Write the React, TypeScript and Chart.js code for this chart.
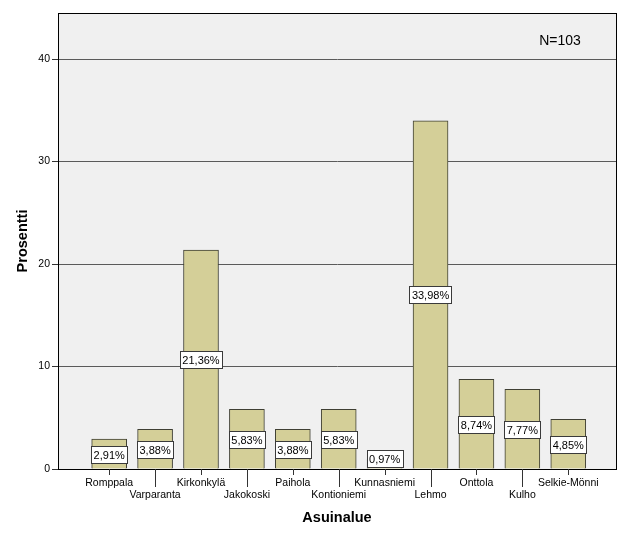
import React, { useEffect, useRef } from 'react';
import { Chart, registerables } from 'chart.js';

Chart.register(...registerables);

const categories = ['Romppala', 'Varparanta', 'Kirkonkylä', 'Jakokoski', 'Paihola', 'Kontioniemi', 'Kunnasniemi', 'Lehmo', 'Onttola', 'Kulho', 'Selkie-Mönni'];
const percentages = [2.91, 3.88, 21.36, 5.83, 3.88, 5.83, 0.97, 33.98, 8.74, 7.77, 4.85];
const yTicks = [0, 10, 20, 30, 40];
const sampleSizeLabel = 'N=103';
const xTitle = 'Asuinalue';
const yTitle = 'Prosentti';

const FONT = "'Liberation Sans', Arial, sans-serif";

const fmt = (v: number) => v.toFixed(2).replace('.', ',') + '%';

export default function App() {
  const ref = useRef<HTMLCanvasElement | null>(null);

  useEffect(() => {
    if (!ref.current) return;
    const decor = {
      id: 'decor',
      beforeDraw(chart: any) {
        const { ctx, chartArea: a } = chart;
        ctx.save();
        ctx.fillStyle = '#ffffff';
        ctx.fillRect(0, 0, chart.width, chart.height);
        ctx.fillStyle = '#f0f0f0';
        ctx.fillRect(a.left, a.top, a.right - a.left, a.bottom - a.top);
        ctx.restore();
      },
      afterDatasetsDraw(chart: any) {
        const { ctx, chartArea: a } = chart;
        const xs = chart.scales.x;
        const ys = chart.scales.y;
        ctx.save();
        ctx.font = `11px ${FONT}`;
        ctx.textAlign = 'center';
        ctx.textBaseline = 'middle';
        percentages.forEach((v, i) => {
          const text = fmt(v);
          const x = xs.getPixelForValue(i);
          let y = ys.getPixelForValue(v / 2);
          const h = 17;
          y = Math.min(y, a.bottom - 11);
          const w = ctx.measureText(text).width + 5;
          const bx = Math.round(x - w / 2) + 0.5;
          const by = Math.round(y - h / 2) + 0.5;
          ctx.fillStyle = '#ffffff';
          ctx.fillRect(bx, by, Math.round(w), h);
          ctx.strokeStyle = '#3a3a3a';
          ctx.lineWidth = 1;
          ctx.strokeRect(bx, by, Math.round(w), h);
          ctx.fillStyle = '#000000';
          ctx.fillText(text, x, by + h / 2 + 0.5);
        });
        ctx.restore();
      },
      afterDraw(chart: any) {
        const { ctx, chartArea: a } = chart;
        const xs = chart.scales.x;
        ctx.save();
        ctx.strokeStyle = '#000000';
        ctx.lineWidth = 1;
        ctx.strokeRect(Math.round(a.left) + 0.5, Math.round(a.top) + 0.5, Math.round(a.right - a.left), Math.round(a.bottom - a.top));
        ctx.strokeStyle = '#333333';
        categories.forEach((_, i) => {
          const x = Math.round(xs.getPixelForValue(i)) + 0.5;
          ctx.beginPath();
          ctx.moveTo(x, a.bottom);
          ctx.lineTo(x, a.bottom + (i % 2 === 0 ? 6 : 18));
          ctx.stroke();
        });
        ctx.fillStyle = '#000000';
        ctx.font = `14px ${FONT}`;
        ctx.textAlign = 'center';
        ctx.textBaseline = 'middle';
        ctx.fillText(sampleSizeLabel, 560, 41);
        ctx.restore();
      },
    };

    const chart = new Chart(ref.current, {
      type: 'bar',
      data: {
        datasets: [
          {
            data: percentages.map((v, i) => ({ x: i, y: v })),
            backgroundColor: '#d4cf98',
            borderColor: '#3f3f33',
            borderWidth: 1,
            barThickness: 35,
          } as any,
        ],
      },
      options: {
        animation: false,
        responsive: false,
        devicePixelRatio: 1,
        layout: { padding: { top: 13, right: 10, left: 0, bottom: 0 } },
        plugins: { legend: { display: false }, tooltip: { enabled: false } },
        scales: {
          x: {
            type: 'linear',
            offset: false,
            min: -1.115,
            max: 11.04,
            afterBuildTicks: (s: any) => {
              s.ticks = categories.map((_, i) => ({ value: i }));
            },
            afterFit: (s: any) => {
              s.height = 72;
            },
            grid: { display: false, drawTicks: false, offset: false },
            border: { display: true, color: '#000000' },
            ticks: {
              autoSkip: false,
              maxRotation: 0,
              minRotation: 0,
              padding: 8,
              color: '#000000',
              font: { family: FONT, size: 10.5, lineHeight: 1.15 },
              callback: (value: any) => {
                const i = Math.round(Number(value));
                return i % 2 === 0 ? categories[i] : ['', categories[i]];
              },
            },
            title: {
              display: true,
              text: xTitle,
              color: '#000000',
              font: { family: FONT, size: 14.5, weight: 'bold' },
              padding: { top: 0, bottom: 14 },
            },
          },
          y: {
            type: 'linear',
            min: 0,
            max: 44.49,
            afterBuildTicks: (s: any) => {
              s.ticks = yTicks.map((v) => ({ value: v }));
            },
            afterFit: (s: any) => {
              s.width = 58;
            },
            grid: { color: '#5a5a5a', lineWidth: 1, tickLength: 6, drawTicks: true, tickColor: '#333333' },
            border: { display: true, color: '#000000' },
            ticks: {
              padding: 2,
              color: '#000000',
              font: { family: FONT, size: 10.5 },
            },
            title: {
              display: true,
              text: yTitle,
              color: '#000000',
              font: { family: FONT, size: 14.5, weight: 'bold' },
              padding: { top: 14, bottom: 0 },
            },
          },
        },
      } as any,
      plugins: [decor],
    });
    return () => chart.destroy();
  }, []);

  return (
    <div style={{ position: 'absolute', left: 0, top: 0, width: 626, height: 541, background: '#fff' }}>
      <canvas ref={ref} width={626} height={541} style={{ display: 'block' }} />
    </div>
  );
}
